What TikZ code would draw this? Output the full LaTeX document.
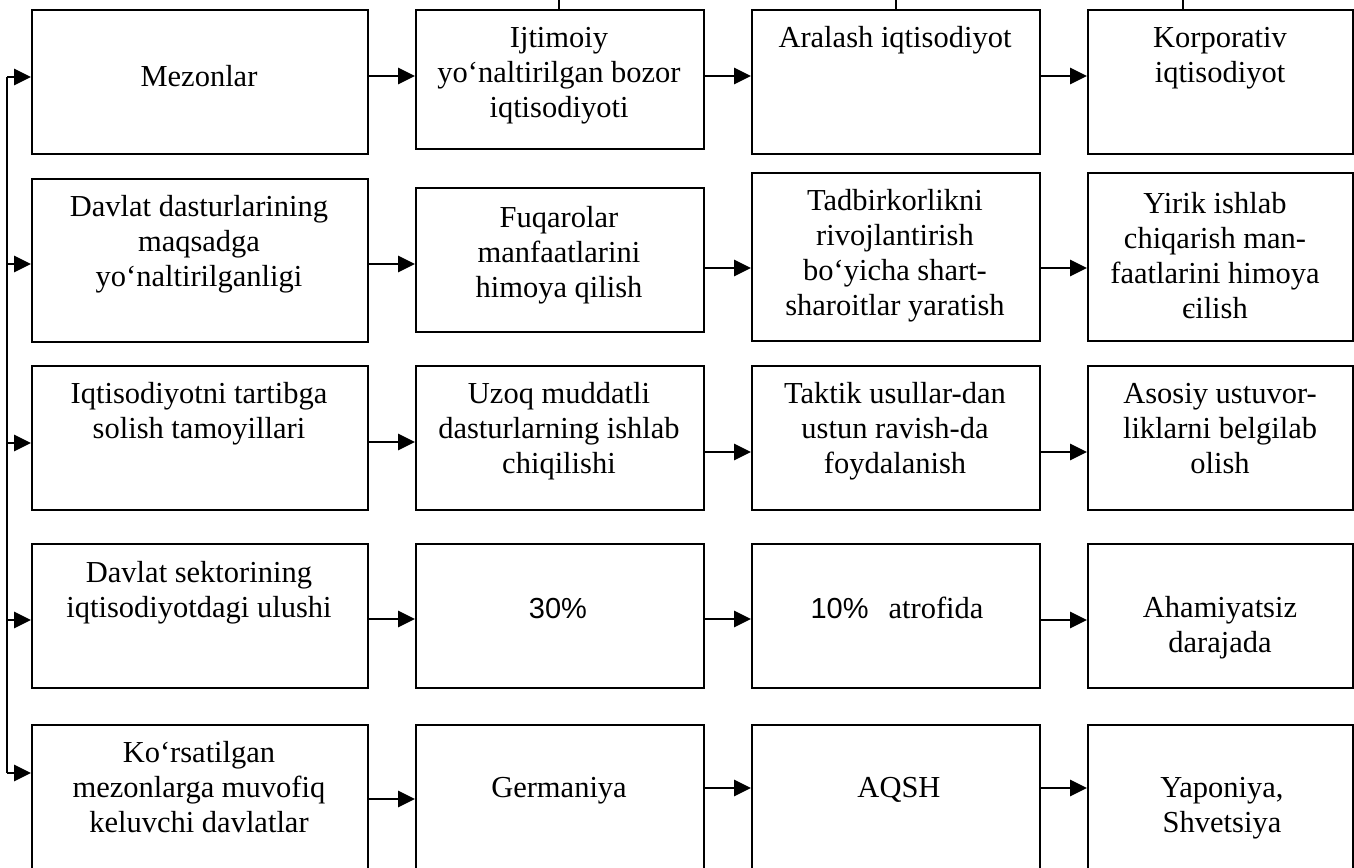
\documentclass[tikz,border=0pt]{standalone}
\usepackage{fontspec}
\setmainfont{Liberation Serif}
\newfontfamily\arialfont{Liberation Sans}
\usetikzlibrary{arrows.meta}
% centred lines whose reference point is the first baseline
\newcommand\celltext[1]{\begin{tabular}[t]{@{}c@{}}#1\end{tabular}}

\tikzset{
  cell/.style={draw, line width=2.4pt, inner sep=0pt, anchor=north west},
  lbl/.style={inner sep=0pt, anchor=base, font=\fontsize{30.5pt}{35pt}\selectfont},
  arr/.style={line width=2.8pt, -{Triangle[length=17pt,width=16pt]}},
  wire/.style={line width=2.4pt},
}

\begin{document}
\begin{tikzpicture}[x=1pt,y=-1pt]
\useasboundingbox (0,0) rectangle (1354,867);

% ---- boxes: row r, column c ----
\node[cell, minimum width=336pt, minimum height=144pt] (r1c1) at (31,9) {};
\node[cell, minimum width=288pt, minimum height=139pt] (r1c2) at (415,9) {};
\node[cell, minimum width=288pt, minimum height=144pt] (r1c3) at (751,9) {};
\node[cell, minimum width=265pt, minimum height=144pt] (r1c4) at (1087,9) {};

\node[cell, minimum width=336pt, minimum height=163pt] (r2c1) at (31,178) {};
\node[cell, minimum width=288pt, minimum height=144pt] (r2c2) at (415,187) {};
\node[cell, minimum width=288pt, minimum height=168pt] (r2c3) at (751,172) {};
\node[cell, minimum width=265pt, minimum height=168pt] (r2c4) at (1087,172) {};

\node[cell, minimum width=336pt, minimum height=144pt] (r3c1) at (31,365) {};
\node[cell, minimum width=288pt, minimum height=144pt] (r3c2) at (415,365) {};
\node[cell, minimum width=288pt, minimum height=144pt] (r3c3) at (751,365) {};
\node[cell, minimum width=265pt, minimum height=144pt] (r3c4) at (1087,365) {};

\node[cell, minimum width=336pt, minimum height=144pt] (r4c1) at (31,543) {};
\node[cell, minimum width=288pt, minimum height=144pt] (r4c2) at (415,543) {};
\node[cell, minimum width=288pt, minimum height=144pt] (r4c3) at (751,543) {};
\node[cell, minimum width=265pt, minimum height=144pt] (r4c4) at (1087,543) {};

\node[cell, minimum width=336pt, minimum height=146pt] (r5c1) at (31,724) {};
\node[cell, minimum width=288pt, minimum height=146pt] (r5c2) at (415,724) {};
\node[cell, minimum width=288pt, minimum height=146pt] (r5c3) at (751,724) {};
\node[cell, minimum width=265pt, minimum height=146pt] (r5c4) at (1087,724) {};

% ---- texts ----
\node[lbl] (t11) at (199,86) {\celltext{Mezonlar}};
\node[lbl] (t12) at (559,48) {\celltext{Ijtimoiy\\yo‘naltirilgan bozor\\iqtisodiyoti}};
\node[lbl] (t13) at (895,48) {\celltext{Aralash iqtisodiyot}};
\node[lbl] (t14) at (1220,48) {\celltext{Korporativ\\iqtisodiyot}};

\node[lbl] (t21) at (199,216) {\celltext{Davlat dasturlarining\\maqsadga\\yo‘naltirilganligi}};
\node[lbl] (t22) at (559,227) {\celltext{Fuqarolar\\manfaatlarini\\himoya qilish}};
\node[lbl] (t23) at (895,210) {\celltext{Tadbirkorlikni\\rivojlantirish\\bo‘yicha shart-\\sharoitlar yaratish}};
\node[lbl] (t24) at (1215,213) {\celltext{Yirik ishlab\\chiqarish man-\\faatlarini himoya\\єilish}};

\node[lbl] (t31) at (199,403) {\celltext{Iqtisodiyotni tartibga\\solish tamoyillari}};
\node[lbl] (t32) at (559,403) {\celltext{Uzoq muddatli\\dasturlarning ishlab\\chiqilishi}};
\node[lbl] (t33) at (895,403) {\celltext{Taktik usullar-dan\\ustun ravish-da\\foydalanish}};
\node[lbl] (t34) at (1220,403) {\celltext{Asosiy ustuvor-\\liklarni belgilab\\olish}};

\node[lbl] (t41) at (199,582) {\celltext{Davlat sektorining\\iqtisodiyotdagi ulushi}};
\node[lbl] (t42) at (558,618) {{\arialfont\fontsize{29pt}{35pt}\selectfont 30\%}};
\node[lbl] (t43) at (897,618) {{\arialfont\fontsize{29pt}{35pt}\selectfont 10\%}\hspace{20pt}atrofida};
\node[lbl] (t44) at (1220,617) {\celltext{Ahamiyatsiz\\darajada}};

\node[lbl] (t51) at (199,762) {\celltext{Ko‘rsatilgan\\mezonlarga muvofiq\\keluvchi davlatlar}};
\node[lbl] (t52) at (559,797) {\celltext{Germaniya}};
\node[lbl] (t53) at (899,797) {\celltext{AQSH}};
\node[lbl] (t54) at (1222,797) {\celltext{Yaponiya,\\Shvetsiya}};

% ---- lines leaving the top edge ----
\coordinate (up2) at (559,-3);
\coordinate (up3) at (896,-3);
\coordinate (up4) at (1183,-3);
\draw[wire] (r1c2.north -| up2) -- (up2);
\draw[wire] (r1c3.north -| up3) -- (up3);
\draw[wire] (r1c4.north -| up4) -- (up4);

% ---- left bus feeding every row ----
\coordinate (b1) at (7,77);
\coordinate (b2) at (7,264);
\coordinate (b3) at (7,443);
\coordinate (b4) at (7,620);
\coordinate (b5) at (7,773);
\draw[wire] (b1) -- (b5);
\draw[arr] (b1) -- (b1 -| r1c1.west);
\draw[arr] (b2) -- (b2 -| r2c1.west);
\draw[arr] (b3) -- (b3 -| r3c1.west);
\draw[arr] (b4) -- (b4 -| r4c1.west);
\draw[arr] (b5) -- (b5 -| r5c1.west);

% ---- arrows along each row ----
\draw[arr] (r1c1.east |- 0,76) -- (r1c2.west |- 0,76);
\draw[arr] (r1c2.east |- 0,76) -- (r1c3.west |- 0,76);
\draw[arr] (r1c3.east |- 0,76) -- (r1c4.west |- 0,76);

\draw[arr] (r2c1.east |- 0,264) -- (r2c2.west |- 0,264);
\draw[arr] (r2c2.east |- 0,268) -- (r2c3.west |- 0,268);
\draw[arr] (r2c3.east |- 0,268) -- (r2c4.west |- 0,268);

\draw[arr] (r3c1.east |- 0,442) -- (r3c2.west |- 0,442);
\draw[arr] (r3c2.east |- 0,452) -- (r3c3.west |- 0,452);
\draw[arr] (r3c3.east |- 0,452) -- (r3c4.west |- 0,452);

\draw[arr] (r4c1.east |- 0,619) -- (r4c2.west |- 0,619);
\draw[arr] (r4c2.east |- 0,619) -- (r4c3.west |- 0,619);
\draw[arr] (r4c3.east |- 0,620) -- (r4c4.west |- 0,620);

\draw[arr] (r5c1.east |- 0,799) -- (r5c2.west |- 0,799);
\draw[arr] (r5c2.east |- 0,788) -- (r5c3.west |- 0,788);
\draw[arr] (r5c3.east |- 0,788) -- (r5c4.west |- 0,788);
\end{tikzpicture}
\end{document}
